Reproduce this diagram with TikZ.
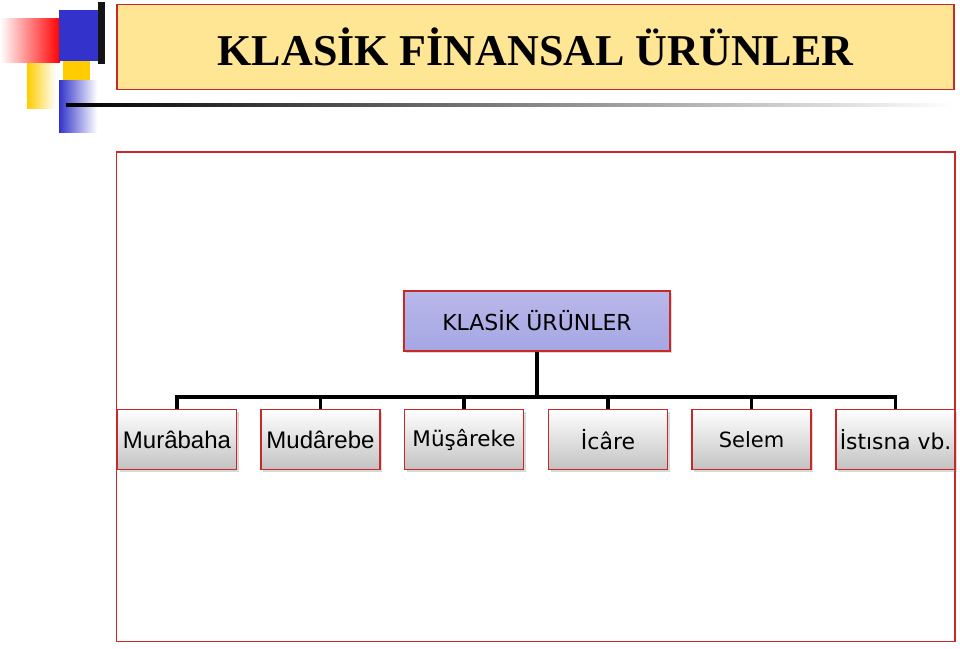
\documentclass[tikz,border=0pt]{standalone}
\usepackage{fontspec}
\setmainfont{Liberation Serif}
\newfontfamily\dvs{DejaVu Sans}
\newfontfamily\lbs{Liberation Sans}
\usetikzlibrary{shadows}
\definecolor{boxred}{RGB}{200,40,40}
\definecolor{titlefill}{RGB}{255,230,148}
\definecolor{lav}{RGB}{166,166,228}
\definecolor{decoblue}{RGB}{51,51,204}
\definecolor{decoyellow}{RGB}{255,204,0}
\tikzset{
  titlebox/.style={draw=boxred, line width=1.5pt, fill=titlefill, inner sep=0pt,
    minimum width=837pt, minimum height=85pt},
  topbox/.style={draw=boxred, line width=1.5pt, top color=lav!80!white, bottom color=lav,
    inner sep=0pt, minimum width=266pt, minimum height=60pt,
    drop shadow={shadow xshift=2pt, shadow yshift=-2pt, opacity=0.3}},
  childbox/.style={draw=boxred, line width=1.5pt, top color=white, bottom color=black!24,
    inner sep=0pt, minimum width=119pt, minimum height=60pt,
    drop shadow={shadow xshift=2pt, shadow yshift=-2pt, opacity=0.3}},
  conn/.style={line width=3.2pt, black, line join=miter},
}
\begin{document}
\begin{tikzpicture}[x=1pt, y=-1pt]
\useasboundingbox (0,0) rectangle (960,648);
% decoration top-left
\shade[left color=white, right color=red] (0,18) rectangle (60,62);
\fill[decoblue] (59,10) rectangle (98,61);
\fill[black!92] (98,2) rectangle (105,64);
\fill[decoyellow] (63,61) rectangle (90,80);
\shade[left color=decoyellow, right color=white] (27,63) rectangle (56,108);
\shade[left color=decoblue, right color=white] (59,80) rectangle (97,132);
\shade[left color=black, right color=white] (66,103.5) rectangle (955,106.5);
% title
\node[titlebox] (title) at (535.5,47) {\raisebox{-6pt}{\fontsize{44}{50}\selectfont\bfseries KLASİK FİNANSAL ÜRÜNLER}};
% main frame
\draw[boxred, line width=1.5pt] (116.5,152) rectangle (955,641.5);
% top node
\node[topbox] (top) at (537,321) {\dvs\fontsize{22}{26}\selectfont KLASİK ÜRÜNLER};
% children
\node[childbox] (c1) at (177,439.5) {\lbs\fontsize{24}{28}\selectfont Murâbaha};
\node[childbox] (c2) at (320.5,439.5) {\lbs\fontsize{24}{28}\selectfont Mudârebe};
\node[childbox] (c3) at (464,439.5) {\raisebox{2pt}{\dvs\fontsize{21.5}{26}\selectfont Müşâreke}};
\node[childbox] (c4) at (608,439.5) {\dvs\fontsize{22}{26}\selectfont İcâre};
\node[childbox] (c5) at (751.5,439.5) {\dvs\fontsize{21}{26}\selectfont Selem};
\node[childbox] (c6) at (895.5,439.5) {\dvs\fontsize{21.8}{26}\selectfont İstısna vb.};
% connectors
\coordinate (bus) at (537,397);
\draw[conn] (top.south) -- (bus);
\foreach \c in {c1,c2,c3,c4,c5,c6}{
  \draw[conn] (bus) -| (\c.north);
}
\end{tikzpicture}
\end{document}
